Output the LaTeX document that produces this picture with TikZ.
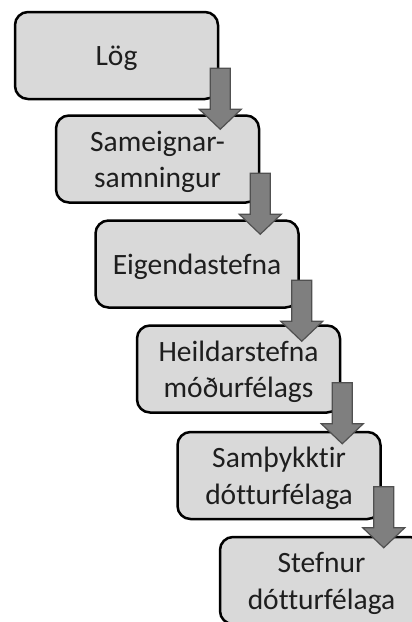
\documentclass[tikz,border=0pt]{standalone}
\usepackage{fontspec}
\setmainfont[Ligatures=NoCommon]{Carlito}
\usetikzlibrary{calc}
\definecolor{boxgray}{HTML}{D9D9D9}
\definecolor{arrowgray}{HTML}{7F7F7F}
\definecolor{arrowedge}{HTML}{505050}
\definecolor{textgray}{HTML}{1E1E1E}
\newcommand\lowtxt[1]{\raisebox{-3pt}[\height][\depth]{#1}}
\begin{document}
\begin{tikzpicture}[x=1pt,y=-1pt,
  box/.style={draw=black, line width=2.5pt, fill=boxgray, rounded corners=13pt,
    minimum width=203pt, minimum height=87pt, inner sep=0pt, align=center,
    text=textgray, font=\fontsize{29.5}{36.5}\selectfont},
  blockarrow/.style={fill=arrowgray, draw=arrowedge, line width=1.2pt, line join=miter}]
\useasboundingbox (0,0) rectangle (412,622);
\clip (0,0) rectangle (412,622);
\node[box] (b1) at (116.5,55.5) {\lowtxt{Lög}};
\node[box] (b2) at (157.5,159) {\lowtxt{Sameignar-}\\\lowtxt{samningur}};
\node[box] (b3) at (197,264) {\lowtxt{Eigendastefna}};
\node[box] (b4) at (238.5,369) {\lowtxt{Heildarstefna}\\\lowtxt{móðurfélags}};
\node[box] (b5) at (279,475.5) {\lowtxt{Samþykktir}\\\lowtxt{dótturfélaga}};
\node[box] (b6) at (321.5,580.5) {\lowtxt{Stefnur}\\\lowtxt{dótturfélaga}};
\coordinate (t1) at ($(b1.east |- b2.north)+(1,15)$);
\coordinate (t2) at ($(b2.east |- b3.north)+(0,15)$);
\coordinate (t3) at ($(b3.east |- b4.north)+(2,17)$);
\coordinate (t4) at ($(b4.east |- b5.north)+(1,13)$);
\coordinate (t5) at ($(b5.east |- b6.north)+(2,12)$);
\foreach \t in {t1,t2,t3,t4,t5}{
  \draw[blockarrow, shift={(\t)}] (-10,-61) -- (10,-61) -- (10,-20) -- (21,-20)
    -- (0,0) -- (-21,-20) -- (-10,-20) -- cycle;
}
\end{tikzpicture}
\end{document}
